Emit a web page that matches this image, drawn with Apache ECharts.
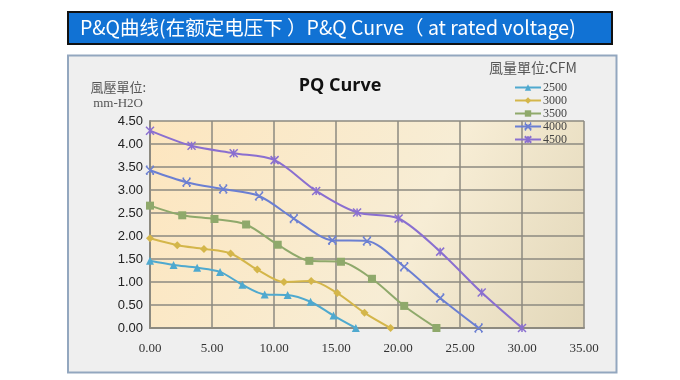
<!DOCTYPE html>
<html><head><meta charset="utf-8">
<script src="https://cdn.jsdelivr.net/npm/echarts@6/dist/echarts.min.js"></script>
<style>html,body{margin:0;padding:0;background:#fff}#c{width:680px;height:380px}</style>
</head><body><div id="c"></div>
<script>
const seriesNames = ['2500', '3000', '3500', '4000', '4500'];
const x2500 = [0, 1.9, 3.8, 5.65, 7.45, 9.25, 11.1, 12.95, 14.8, 16.6];
const y2500 = [1.46, 1.37, 1.31, 1.22, 0.94, 0.73, 0.72, 0.57, 0.27, 0];
const x3000 = [0, 2.2, 4.35, 6.5, 8.65, 10.8, 13.0, 15.1, 17.3, 19.4];
const y3000 = [1.95, 1.80, 1.72, 1.62, 1.27, 1.00, 1.02, 0.76, 0.33, 0];
const x3500 = [0, 2.6, 5.2, 7.75, 10.3, 12.85, 15.4, 17.9, 20.5, 23.1];
const y3500 = [2.66, 2.45, 2.37, 2.25, 1.81, 1.46, 1.44, 1.07, 0.48, 0];
const x4000 = [0, 2.95, 5.9, 8.8, 11.6, 14.7, 17.5, 20.5, 23.4, 26.5];
const y4000 = [3.43, 3.17, 3.02, 2.87, 2.38, 1.91, 1.89, 1.33, 0.65, 0];
const x4500 = [0, 3.35, 6.75, 10.05, 13.4, 16.7, 20.05, 23.4, 26.75, 30.0];
const y4500 = [4.29, 3.96, 3.80, 3.65, 2.98, 2.51, 2.38, 1.66, 0.77, 0];
const xTicks = [0, 5, 10, 15, 20, 25, 30, 35];
const yTicks = [0, 0.5, 1, 1.5, 2, 2.5, 3, 3.5, 4, 4.5];

const xs = [x2500, x3000, x3500, x4000, x4500];
const ys = [y2500, y3000, y3500, y4000, y4500];
const colors = ['#4fa9cf', '#d4b64a', '#8fa96b', '#6b7fd2', '#8a6fd0'];
const symbols = ['triangle', 'diamond', 'rect',
  'path://M0,0L10,10M10,0L0,10M0,0L2,0M8,0L10,0M0,10L2,10M8,10L10,10',
  'path://M0,0L10,10M10,0L0,10M5,0L5,10'];
const sizes = [8, 8, 8, 8, 8];

const chart = echarts.init(document.getElementById('c'), null, {renderer: 'canvas'});
const series = seriesNames.map((n, i) => ({
  name: n, type: 'line', smooth: 0.3,
  data: xs[i].map((x, j) => [x, ys[i][j]]),
  symbol: symbols[i], symbolSize: sizes[i], showSymbol: true,
  lineStyle: {color: colors[i], width: 2},
  itemStyle: {color: colors[i], borderColor: colors[i], borderWidth: i >= 3 ? 1.5 : 0},
  z: 3
}));

chart.setOption({
  animation: false,
  backgroundColor: '#ffffff',
  graphic: [
    {type: 'rect', z: -10, shape: {x: 68, y: 55.5, width: 548.5, height: 317},
     style: {fill: '#efefef', stroke: '#93a7bf', lineWidth: 2}},
    {type: 'rect', z: 10, shape: {x: 68, y: 12, width: 544, height: 32},
     style: {fill: '#1172d4', stroke: '#111', lineWidth: 2}},
    {type: 'text', z: 11, x: 80, y: 28,
     style: {text: 'P&Q曲线(在额定电压下 ）P&Q Curve（ at rated voltage)', fill: '#ffffff',
       font: '19.5px "Noto Sans CJK SC", sans-serif', textVerticalAlign: 'middle'}},
    {type: 'text', z: 11, x: 340, y: 86,
     style: {text: 'PQ Curve', fill: '#111', font: 'bold 18px "Open Sans", sans-serif',
       textAlign: 'center', textVerticalAlign: 'middle'}},
    {type: 'text', z: 11, x: 146, y: 87,
     style: {text: '風壓單位:', fill: '#555', font: '13px "Noto Sans CJK TC", serif',
       textAlign: 'right', textVerticalAlign: 'middle'}},
    {type: 'text', z: 11, x: 143, y: 104,
     style: {text: 'mm-H2O', fill: '#555', font: '13px "Liberation Serif", serif',
       textAlign: 'right', textVerticalAlign: 'middle'}},
    {type: 'text', z: 11, x: 533, y: 68,
     style: {text: '風量單位:CFM', fill: '#555', font: '14px "Noto Sans CJK TC", serif',
       textAlign: 'center', textVerticalAlign: 'middle'}}
  ],
  legend: {
    data: seriesNames, orient: 'vertical', left: 514, top: 81.5,
    itemWidth: 26, itemHeight: 8, itemGap: 1, padding: 0,
    textStyle: {fontFamily: 'Liberation Serif', fontSize: 12, lineHeight: 12, color: '#444', padding: [0, 0, 0, -3]}
  },
  grid: {left: 150, top: 121, right: 96, bottom: 52, show: true, borderWidth: 0,
    backgroundColor: {type: 'linear', x: 0, y: 0, x2: 1, y2: 1,
      colorStops: [{offset: 0, color: '#fde6bf'}, {offset: 0.6, color: '#f7edd5'}, {offset: 1, color: '#e2d7b9'}]}},
  xAxis: {
    type: 'value', min: 0, max: 35, interval: 5,
    axisLine: {show: true, lineStyle: {color: '#8d8a80', width: 2}},
    axisTick: {show: false},
    splitLine: {show: true, lineStyle: {color: '#8d8a80', width: 1.5}},
    axisLabel: {formatter: v => xTicks.includes(v) ? v.toFixed(2) : '', color: '#333',
      fontFamily: 'Liberation Serif', fontSize: 13, margin: 14}
  },
  yAxis: {
    type: 'value', min: 0, max: 4.5, interval: 0.5,
    axisLine: {show: true, lineStyle: {color: '#8d8a80', width: 2}},
    axisTick: {show: false},
    splitLine: {show: true, lineStyle: {color: '#8d8a80', width: 1.5}},
    axisLabel: {formatter: v => yTicks.includes(v) ? v.toFixed(2) : '', color: '#222',
      fontFamily: 'Liberation Sans', fontSize: 13, margin: 7}
  },
  series: series
});
</script></body></html>
